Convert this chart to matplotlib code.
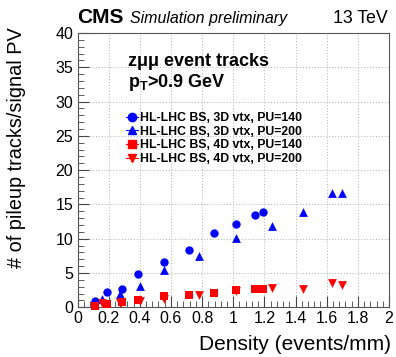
import matplotlib
matplotlib.use("Agg")
import matplotlib.pyplot as plt
from matplotlib.lines import Line2D
from matplotlib.ticker import MultipleLocator

plt.rcParams["font.family"] = ["Liberation Sans", "DejaVu Sans"]
plt.rcParams["mathtext.fontset"] = "custom"
plt.rcParams["mathtext.rm"] = "Liberation Sans"
plt.rcParams["mathtext.bf"] = "Liberation Sans:bold"

# ---- data ----
dens_140 = [0.112, 0.187, 0.283, 0.388, 0.553, 0.719, 0.877, 1.016, 1.142, 1.194]
dens_200 = [0.16, 0.27, 0.40, 0.553, 0.78, 1.02, 1.25, 1.45, 1.636, 1.70]

pu_3d_140 = [0.9, 2.2, 2.6, 4.8, 6.6, 8.3, 10.9, 12.1, 13.5, 13.9]
pu_3d_200 = [1.2, 2.0, 3.1, 5.4, 7.5, 10.1, 11.9, 13.9, 16.6, 16.6]
pu_4d_140 = [0.2, 0.5, 0.7, 1.05, 1.65, 1.8, 2.15, 2.5, 2.65, 2.65]
pu_4d_200 = [0.6, 0.6, 0.9, 1.15, 1.8, 2.4, 2.85, 2.7, 3.55, 3.2]

labels = ["HL-LHC BS, 3D vtx, PU=140", "HL-LHC BS, 3D vtx, PU=200",
          "HL-LHC BS, 4D vtx, PU=140", "HL-LHC BS, 4D vtx, PU=200"]

W, H = 396, 357
fig = plt.figure(figsize=(W / 100, H / 100), dpi=100)
x0, x1, y0, y1 = 77.5, 389, 307.3, 33
ax = fig.add_axes([x0 / W, (H - y0) / H, (x1 - x0) / W, (y0 - y1) / H])

series = [
    (dens_140, pu_3d_140, "o", "#0000ff", 36),
    (dens_200, pu_3d_200, "^", "#0000ff", 40),
    (dens_140, pu_4d_140, "s", "#ff0000", 30),
    (dens_200, pu_4d_200, "v", "#ff0000", 40),
]
for xs, ys, m, c, s in series:
    ax.scatter(xs, ys, marker=m, color=c, s=s, linewidths=0, zorder=3, clip_on=False)

ax.set_xlim(0, 2)
ax.set_ylim(0, 40)
ax.xaxis.set_major_locator(MultipleLocator(0.2))
ax.xaxis.set_minor_locator(MultipleLocator(0.04))
ax.yaxis.set_major_locator(MultipleLocator(5))
ax.yaxis.set_minor_locator(MultipleLocator(1))
ax.xaxis.set_major_formatter(plt.FuncFormatter(lambda v, p: f"{v:g}"))
ax.tick_params(which="both", direction="in", top=False, right=False,
               labelsize=11.5, color="#444444")
ax.tick_params(which="major", length=8, width=0.8)
ax.tick_params(which="minor", length=4, width=0.6)
ax.tick_params(axis="x", pad=3)
ax.tick_params(axis="y", pad=3)
ax.grid(True, which="major", linestyle=(0, (1, 2)), color="#b0b0b0", linewidth=0.7)
ax.set_axisbelow(True)
for sp in ax.spines.values():
    sp.set_color("#555555")
    sp.set_linewidth(0.8)

# axis titles (ROOT style: aligned to the end of the axis)
fig.text(391 / W, 1 - 345 / H, "Density (events/mm)", ha="right", va="center", fontsize=15)
fig.text(17 / W, 1 - 27 / H, "# of pileup tracks/signal PV", ha="center", va="top",
         rotation=90, fontsize=14.3)

# header
fig.text(77 / W, 1 - 23 / H, "CMS", fontsize=15, fontweight="bold", va="baseline")
fig.text(130 / W, 1 - 23 / H, "Simulation preliminary", fontsize=11.5, style="italic",
         va="baseline")
fig.text(388 / W, 1 - 23 / H, "13 TeV", fontsize=12.8, ha="right", va="baseline")

# annotations
fig.text(128 / W, 1 - 66 / H, "zμμ event tracks", fontsize=13, fontweight="bold",
         va="baseline")
fig.text(128 / W, 1 - 87 / H, r"p$_{\mathbf{T}}$>0.9 GeV", fontsize=13,
         fontweight="bold", va="baseline")

handles = [Line2D([], [], marker=m, color=c, markersize=6, linewidth=0.8)
           for _, _, m, c, _ in series]
leg = ax.legend(handles, labels, loc="upper left",
                bbox_to_anchor=(126 / W, 1 - 112 / H), bbox_transform=fig.transFigure,
                frameon=False, handlelength=1.0, handletextpad=0.15,
                labelspacing=0.14, borderpad=0, borderaxespad=0,
                prop={"weight": "bold", "size": 8.8})

fig.savefig("out.png", dpi=100)
